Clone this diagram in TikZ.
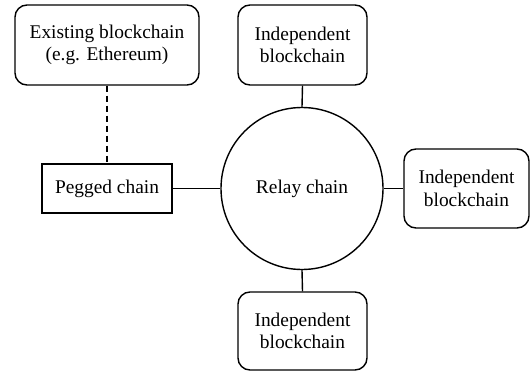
\documentclass[tikz,border=0pt]{standalone}
\usepackage{fontspec}
\setmainfont{Liberation Serif}
\begin{document}
\begin{tikzpicture}[x=1pt,y=-1pt, line width=1.4pt,
  every node/.style={font=\fontsize{19.4}{22.5}\selectfont, align=center, inner sep=0pt},
  rbox/.style={draw, rounded corners=12pt},
  sbox/.style={draw},
  link/.style={},
  dlink/.style={dash pattern=on 6pt off 4pt}]
\useasboundingbox (0,0) rectangle (530,372);
\node[rbox, minimum width=184pt, minimum height=80pt] (exist) at (107,45) {Existing blockchain\\(e.g. Ethereum)};
\node[sbox, minimum width=130pt, minimum height=49pt] (peg) at (107,188.5) {Pegged chain};
\node[draw, circle, minimum size=162pt] (relay) at (302,188.5) {Relay chain};
\node[rbox, minimum width=129pt, minimum height=80pt] (top) at (302.5,45) {Independent\\blockchain};
\node[rbox, minimum width=125pt, minimum height=79pt] (right) at (466.5,188.5) {Independent\\blockchain};
\node[rbox, minimum width=129pt, minimum height=78pt] (bot) at (302.5,331) {Independent\\blockchain};
\draw[dlink] (exist.south) -- (peg.north);
\draw[link] (peg.east) -- (relay.west);
\draw[link] (relay.north) -- (top.south);
\draw[link] (relay.east) -- (right.west);
\draw[link] (relay.south) -- (bot.north);
\end{tikzpicture}
\end{document}
